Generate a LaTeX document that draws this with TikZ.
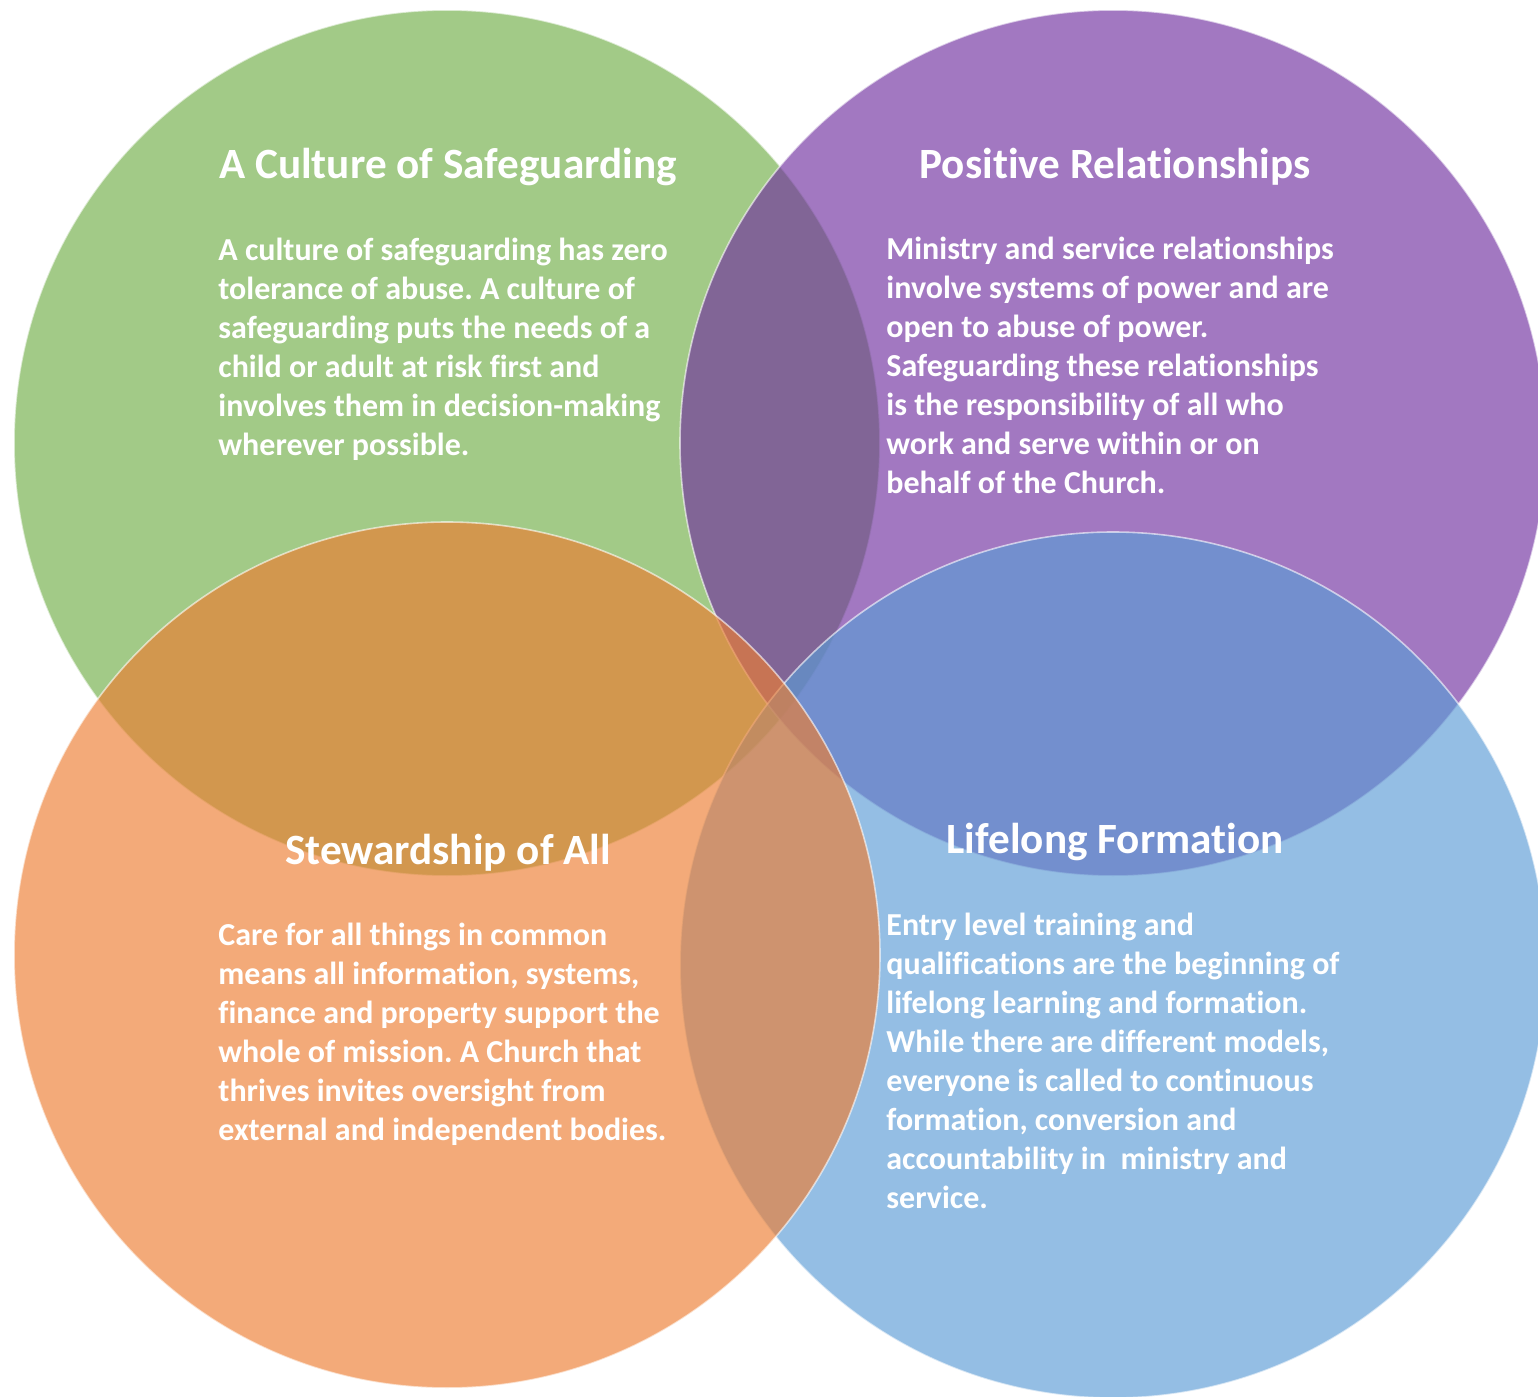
\documentclass[tikz,border=0pt]{standalone}
\usepackage{fontspec}
\setmainfont{Carlito}[Ligatures=NoCommon]
\frenchspacing
\usetikzlibrary{positioning}
\definecolor{safegreen}{HTML}{70AD47}
\definecolor{relpurple}{HTML}{7030A0}
\definecolor{formblue}{HTML}{5B9BD5}
\definecolor{steworange}{HTML}{ED7D31}
\begin{document}
\begin{tikzpicture}[x=0.5pt, y=-0.5pt,
	ring/.style={circle, draw=white, draw opacity=0.6, line width=0.8pt, fill opacity=0.65, minimum size=433pt, inner sep=0pt},
	heading/.style={text=white, anchor=base, inner sep=0pt, font=\fontsize{21.6}{26}\selectfont\bfseries},
	blurb/.style={text=white, align=left, anchor=base west, inner sep=0pt, font=\fontsize{16}{19.5}\selectfont\bfseries}]
	\useasboundingbox (0,0) rectangle (1538,1397);
	% the four rings, back to front
	\node[ring, fill=safegreen] (culture) at (447,443) {};
	\node[ring, fill=relpurple] (relations) at (1113,443) {};
	\node[ring, fill=formblue] (formation) at (1113,965) {};
	\node[ring, fill=steworange] (stewardship) at (447,955) {};
	% headings
	\node[heading] (culturetitle) at (448,178) {A Culture of Safeguarding};
	\node[heading] (relationstitle) at (1115,178) {Positive Relationships};
	\node[heading] (stewardtitle) at (448,864) {Stewardship of All};
	\node[heading] (formtitle) at (1115,853) {Lifelong Formation};
	% texts (placed by the baseline of their last line)
	\node[blurb] (culturetext) at (218,455) {A culture of safeguarding has zero\\tolerance of abuse. A culture of\\safeguarding puts the needs of a\\child or adult at risk first and\\involves them in decision-making\\wherever possible.};
	\node[blurb] (relationstext) at (886,493) {Ministry and service relationships\\involve systems of power and are\\open to abuse of power.\\Safeguarding these relationships\\is the responsibility of all who\\work and serve within or on\\behalf of the Church.};
	\node[blurb] (stewardtext) at (218,1140) {Care for all things in common\\means all information, systems,\\finance and property support the\\whole of mission. A Church that\\thrives invites oversight from\\external and independent bodies.};
	\node[blurb] (formtext) at (886,1208) {Entry level training and\\qualifications are the beginning of\\lifelong learning and formation.\\While there are different models,\\everyone is called to continuous\\formation, conversion and\\accountability in\ \ ministry and\\service.};
\end{tikzpicture}
\end{document}
